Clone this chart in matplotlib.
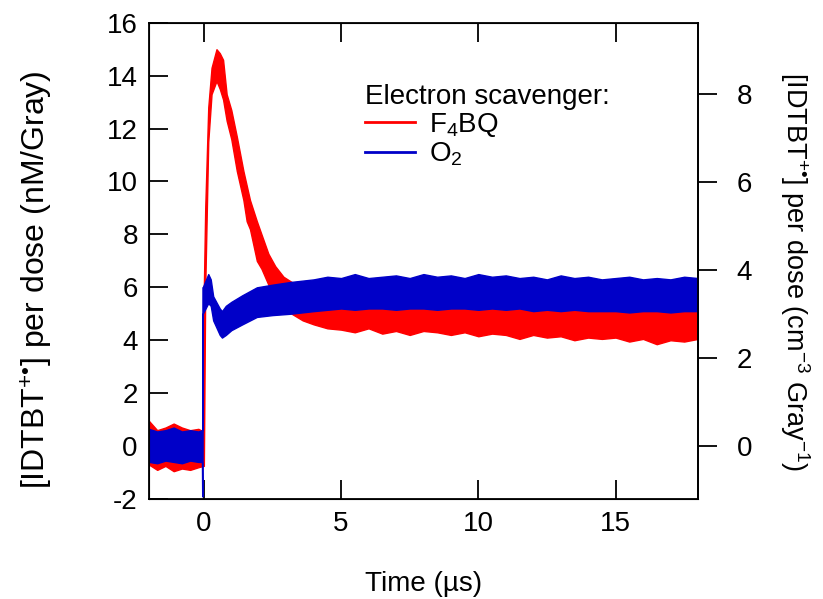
import matplotlib
matplotlib.use("Agg")
import matplotlib.pyplot as plt
from matplotlib.lines import Line2D

plt.rcParams['font.family'] = ['Liberation Sans', 'DejaVu Sans']
plt.rcParams['mathtext.fontset'] = 'custom'
plt.rcParams['mathtext.rm'] = 'Liberation Sans'
plt.rcParams['mathtext.it'] = 'Liberation Sans:italic'
plt.rcParams['mathtext.bf'] = 'Liberation Sans:bold'
plt.rcParams['axes.unicode_minus'] = False

# F4BQ trace: time (us) with upper / lower edge of the noisy band (nM/Gray)
red_t = [-2.0, -1.7, -1.4, -1.1, -0.8, -0.5, -0.2, -0.02, 0.0, 0.05, 0.16,
         0.28, 0.46, 0.58, 0.7, 0.83, 1.0, 1.2, 1.44, 1.56, 1.68, 1.93, 2.1,
         2.35, 2.6, 2.9, 3.2, 3.6, 4.0, 4.5, 5.0, 5.5, 6.0, 6.5, 7.0, 7.5,
         8.0, 8.5, 9.0, 9.5, 10.0, 10.5, 11.0, 11.5, 12.0, 12.5, 13.0, 13.5,
         14.0, 14.5, 15.0, 15.5, 16.0, 16.5, 17.0, 17.5, 18.0]
red_hi = [0.95, 0.6, 0.7, 0.85, 0.7, 0.6, 0.65, 0.55, 6.0, 9.0, 12.8,
          14.3, 15.0, 14.85, 14.6, 13.3, 12.7, 11.7, 10.4, 9.85, 9.3, 8.5, 8.0,
          7.27, 6.8, 6.4, 6.2, 5.95, 5.8, 5.7, 5.6, 5.6, 5.55, 5.6, 5.6, 5.5,
          5.5, 5.55, 5.5, 5.45, 5.45, 5.4, 5.4, 5.45, 5.35, 5.35, 5.4, 5.3,
          5.3, 5.3, 5.3, 5.25, 5.25, 5.2, 5.2, 5.25, 5.2]
red_lo = [-0.7, -0.9, -0.75, -0.95, -0.85, -0.9, -0.8, -0.75, -0.75, 6.0, 11.5,
          13.3, 13.8, 13.5, 13.1, 12.3, 11.6, 10.4, 9.3, 8.5, 8.2, 7.0, 6.7,
          6.1, 5.7, 5.3, 5.0, 4.75, 4.6, 4.45, 4.4, 4.3, 4.45, 4.25, 4.35, 4.2,
          4.35, 4.3, 4.2, 4.3, 4.15, 4.25, 4.2, 4.05, 4.2, 4.1, 4.15, 4.0,
          4.1, 4.05, 4.1, 3.95, 4.05, 3.85, 4.0, 3.95, 4.05]

# O2 trace
blue_t = [-2.0, -1.7, -1.4, -1.1, -0.8, -0.5, -0.2, -0.07, -0.06, -0.05,
          -0.04, 0.16, 0.25, 0.34, 0.58, 0.66, 0.8, 1.0, 1.4, 1.93, 2.5,
          3.14, 4.0, 4.5, 5.0, 5.5, 6.0, 6.5, 7.0, 7.5, 8.0, 8.5, 9.0, 9.5,
          10.0, 10.5, 11.0, 11.5, 12.0, 12.5, 13.0, 13.5, 14.0, 14.5, 15.0,
          15.5, 16.0, 16.5, 17.0, 17.5, 18.0]
blue_hi = [0.65, 0.55, 0.6, 0.7, 0.55, 0.6, 0.55, 0.6, 0.6, 6.0,
           6.0, 6.5, 6.3, 5.66, 5.2, 5.1, 5.3, 5.45, 5.7, 6.0, 6.1,
           6.2, 6.3, 6.4, 6.35, 6.5, 6.35, 6.4, 6.45, 6.35, 6.5, 6.4, 6.45, 6.35,
           6.5, 6.4, 6.45, 6.35, 6.4, 6.3, 6.45, 6.35, 6.4, 6.3, 6.35,
           6.4, 6.3, 6.35, 6.3, 6.4, 6.35]
blue_lo = [-0.6, -0.65, -0.55, -0.6, -0.65, -0.55, -0.6, -0.6, -1.9, -1.9,
           5.0, 5.4, 5.3, 4.75, 4.2, 4.1, 4.2, 4.38, 4.6, 4.88, 4.95,
           5.0, 5.1, 5.15, 5.2, 5.15, 5.2, 5.2, 5.15, 5.2, 5.2, 5.15, 5.2, 5.2,
           5.15, 5.2, 5.15, 5.2, 5.1, 5.15, 5.1, 5.15, 5.1, 5.1, 5.1,
           5.05, 5.1, 5.1, 5.05, 5.1, 5.1]

labels = ['F$_4$BQ', 'O$_2$']
colors = ['#ff0000', '#0000c8']
fs = 20

fig = plt.figure(figsize=(8.23, 5.99), dpi=100)
ax = fig.add_axes([0.181, 0.167, 0.667, 0.795])

ax.fill_between(red_t, red_lo, red_hi, color=colors[0], lw=1.0, zorder=2)
ax.fill_between(blue_t, blue_lo, blue_hi, color=colors[1], lw=1.0, zorder=3)

ax.set_xlim(-2, 18)
ax.set_ylim(-2, 16)
ax.set_xticks([0, 5, 10, 15])
ax.set_yticks(range(-2, 17, 2))
for s in ax.spines.values():
    s.set_linewidth(1.3)
ax.tick_params(axis='both', direction='in', length=14, width=1.3,
               labelsize=fs, top=True, right=False)
ax.tick_params(axis='y', pad=8)
ax.tick_params(axis='x', pad=9)

ax.set_xlabel('Time (µs)', fontsize=fs, labelpad=24)
ax.set_ylabel('[IDTBT$^{+\u2022}$] per dose (nM/Gray)', fontsize=23,
              va='center')
ax.yaxis.set_label_coords(-0.205, 0.46)

# right axis in cm^-3 Gray^-1 (scaled copy of the left axis)
k = 0.601
ax2 = ax.twinx()
ax2.set_ylim(-2 * k, 16 * k)
ax2.set_yticks([0, 2, 4, 6, 8])
ax2.spines['right'].set_linewidth(1.3)
ax2.tick_params(axis='y', direction='out', length=14, width=1.3,
                labelsize=fs, pad=14)
ax2.set_ylabel('[IDTBT$^{+\u2022}$] per dose (cm$^{-3}$ Gray$^{-1}$)',
               fontsize=19.5, rotation=270, va='center')
ax2.yaxis.set_label_coords(1.177, 0.477)

handles = [Line2D([], [], color=c, lw=2) for c in colors]
leg = ax.legend(handles, labels, title='Electron scavenger:', loc='upper left',
                bbox_to_anchor=(0.393, 0.872), frameon=False, fontsize=fs,
                title_fontsize=fs, borderpad=0, borderaxespad=0,
                handlelength=1.8, handletextpad=0.5, labelspacing=0.05,
                alignment='left')

fig.savefig('out.png', dpi=100)
